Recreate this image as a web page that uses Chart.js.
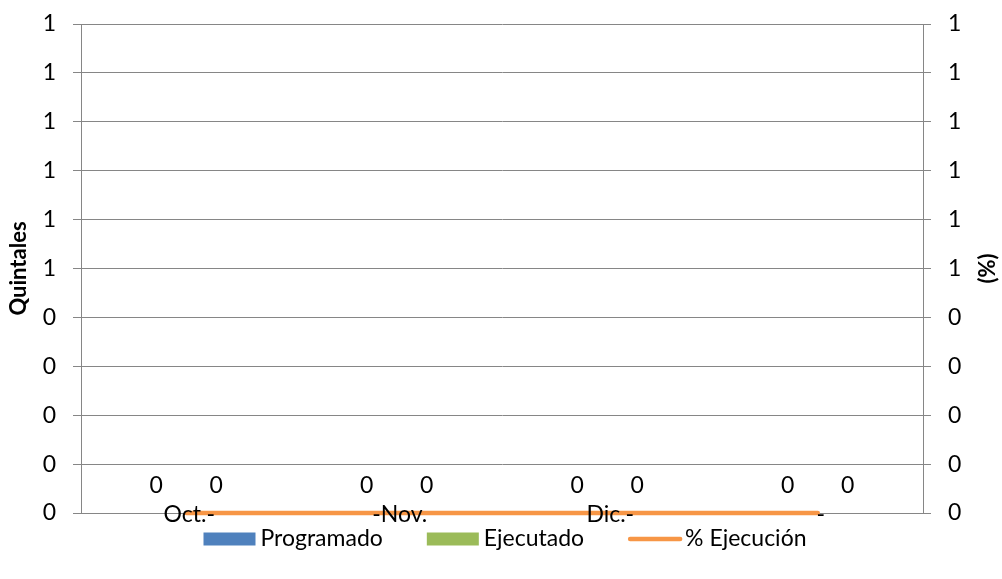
<!DOCTYPE html>
<html>
<head>
<meta charset="utf-8">
<script src="https://cdn.jsdelivr.net/npm/chart.js@4.4.0/dist/chart.umd.min.js"></script>
<style>
  html, body { margin: 0; padding: 0; background: #fff; }
  #wrap { width: 1002px; height: 579px; }
</style>
</head>
<body>
<div id="wrap"><canvas id="chart" width="1002" height="579"></canvas></div>
<script>
// Data
const categories = ['Oct.-', '-Nov.', 'Dic.-', '-'];
const programado = [0, 0, 0, 0];
const ejecutado = [0, 0, 0, 0];
const ejecucion = [0, 0, 0, 0];
// Excel shows 0..1 in steps of 0.1 with no decimals
const leftTicks = ['0', '0', '0', '0', '0', '1', '1', '1', '1', '1', '1'];
const rightTicks = ['0', '0', '0', '0', '0', '1', '1', '1', '1', '1', '1'];

const GRID = '#868686';
const FONT = 'Lato';
const SIZE = 23;
Chart.defaults.font.family = FONT;
Chart.defaults.color = '#000';

// category labels (they sit on the axis line), value labels, right title, legend
const extras = {
  id: 'extras',
  afterDatasetsDraw(chart) {
    const ctx = chart.ctx;
    ctx.save();
    ctx.font = `${SIZE}px ${FONT}`;
    ctx.fillStyle = '#000';
    ctx.textAlign = 'center';
    ctx.textBaseline = 'middle';
    chart.data.datasets.forEach((ds, i) => {
      if (ds.type === 'line') return;
      chart.getDatasetMeta(i).data.forEach((bar, j) => {
        ctx.fillText(String(Math.round(ds.data[j])), bar.x, bar.y - 27);
      });
    });
    const xs = chart.scales.x;
    chart.data.labels.forEach((lab, i) => {
      ctx.fillText(lab, xs.getPixelForValue(i) + 3, chart.chartArea.bottom + 2);
    });
    ctx.restore();
  },
  afterDraw(chart) {
    const ctx = chart.ctx;
    ctx.save();
    // right axis title, reads bottom to top
    ctx.font = `bold 22px ${FONT}`;
    ctx.fillStyle = '#000';
    ctx.textAlign = 'center';
    ctx.textBaseline = 'middle';
    ctx.translate(988, (chart.chartArea.top + chart.chartArea.bottom) / 2);
    ctx.rotate(-Math.PI / 2);
    ctx.fillText('(%)', 0, 0);
    ctx.restore();

    // legend
    ctx.save();
    ctx.font = `${SIZE}px ${FONT}`;
    ctx.textBaseline = 'middle';
    ctx.textAlign = 'left';
    const sets = chart.data.datasets;
    const widths = sets.map(ds => 57 + ctx.measureText(ds.label).width);
    const total = widths.reduce((a, b) => a + b, 0) + 44 * (sets.length - 1);
    let x = 505 - total / 2;
    const y = 539;
    sets.forEach((ds, i) => {
      if (ds.type === 'line') {
        ctx.strokeStyle = ds.borderColor;
        ctx.lineWidth = ds.borderWidth;
        ctx.lineCap = 'round';
        ctx.beginPath();
        ctx.moveTo(x + 2, y);
        ctx.lineTo(x + 52, y);
        ctx.stroke();
      } else {
        ctx.fillStyle = ds.backgroundColor;
        ctx.fillRect(x, y - 6.5, 52, 13);
      }
      ctx.fillStyle = '#000';
      ctx.fillText(ds.label, x + 57, y);
      x += widths[i] + 44;
    });
    ctx.restore();
  }
};

// no extra room for the end labels, keep the plot box where Excel put it
function noOverhang(scale) {
  scale.paddingTop = 0;
  scale.paddingBottom = 0;
}

new Chart(document.getElementById('chart'), {
  type: 'bar',
  data: {
    labels: categories,
    datasets: [
      {
        label: 'Programado',
        data: programado,
        backgroundColor: '#4F81BD',
        borderWidth: 0,
        barPercentage: 1,
        categoryPercentage: 0.57,
        order: 1,
        yAxisID: 'y'
      },
      {
        label: 'Ejecutado',
        data: ejecutado,
        backgroundColor: '#9BBB59',
        borderWidth: 0,
        barPercentage: 1,
        categoryPercentage: 0.57,
        order: 1,
        yAxisID: 'y'
      },
      {
        type: 'line',
        label: '% Ejecución',
        data: ejecucion,
        borderColor: '#F79646',
        backgroundColor: '#F79646',
        borderWidth: 4.5,
        borderCapStyle: 'round',
        pointRadius: 0,
        tension: 0,
        order: 0,
        yAxisID: 'y1',
        clip: 10
      }
    ]
  },
  options: {
    responsive: false,
    animation: false,
    layout: { padding: { top: 24, left: 0, right: 0, bottom: 36 } },
    plugins: {
      legend: { display: false },
      tooltip: { enabled: false }
    },
    scales: {
      x: {
        grid: { display: false },
        border: { display: false },
        ticks: { display: false },
        afterFit(scale) { scale.height = 30; }
      },
      y: {
        position: 'left',
        min: 0,
        max: 1,
        ticks: {
          stepSize: 0.1,
          padding: 17,
          font: { size: SIZE },
          color: '#000',
          callback: (v, i) => leftTicks[i]
        },
        grid: { color: GRID, tickColor: GRID, tickLength: 8, lineWidth: 1 },
        border: { color: GRID },
        title: {
          display: true,
          text: 'Quintales',
          font: { size: 22, weight: 'bold' },
          color: '#000',
          padding: { top: 6, bottom: 0 }
        },
        afterFit(scale) { scale.width = 81; noOverhang(scale); }
      },
      y1: {
        position: 'right',
        min: 0,
        max: 1,
        ticks: {
          stepSize: 0.1,
          padding: 17,
          font: { size: SIZE },
          color: '#000',
          callback: (v, i) => rightTicks[i]
        },
        grid: { drawOnChartArea: false, color: GRID, tickColor: GRID, tickLength: 8, lineWidth: 1 },
        border: { color: GRID },
        afterFit(scale) { scale.width = 79; noOverhang(scale); }
      }
    }
  },
  plugins: [extras]
});
</script>
</body>
</html>
